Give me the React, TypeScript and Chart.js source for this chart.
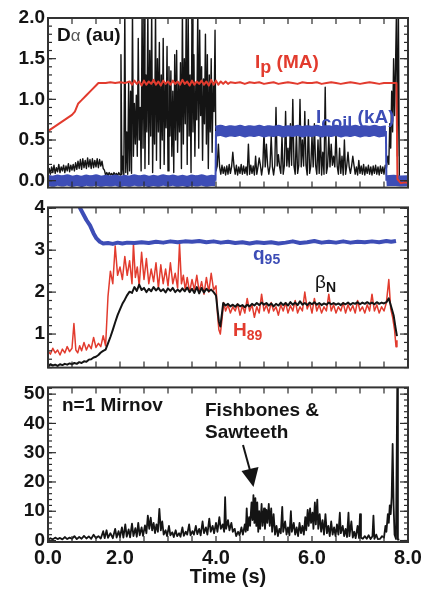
import React, { useEffect, useRef } from "react";
import { Chart, registerables } from "chart.js";

Chart.register(...registerables);

type Pt = [number, number];

// ---------- shared axis labels ----------
const xLabelPositions = [0.5, 2, 4, 6, 8];
const xTickLabels = ["0.0", "2.0", "4.0", "6.0", "8.0"];
const xTickMarks = [0.5, 1, 1.5, 2, 2.5, 3, 3.5, 4, 4.5, 5, 5.5, 6, 6.5, 7, 7.5, 8];
const topYTicks = [0, 0.5, 1, 1.5, 2];
const midYTicks = [1, 2, 3, 4];
const botYTicks = [0, 10, 20, 30, 40, 50];

// ---------- top panel: Ip (MA) ----------
const ipSeries: Pt[] = [
  [0.5, 0.61], [0.6, 0.65], [0.7, 0.69], [0.8, 0.73], [0.9, 0.77], [1.0, 0.81], [1.06, 0.85], [1.13, 0.95],
  [1.2, 0.99], [1.3, 1.05], [1.4, 1.11], [1.5, 1.17], [1.55, 1.2], [1.7, 1.2], [1.8, 1.21], [1.9, 1.2],
  [2.0, 1.21], [2.1, 1.2], [2.2, 1.22], [2.25, 1.18], [2.3, 1.23], [2.35, 1.19], [2.4, 1.22], [2.45, 1.17],
  [2.5, 1.23], [2.55, 1.18], [2.6, 1.22], [2.65, 1.19], [2.7, 1.24], [2.75, 1.18], [2.8, 1.22], [2.85, 1.17],
  [2.9, 1.23], [2.95, 1.19], [3.0, 1.22], [3.05, 1.18], [3.1, 1.23], [3.15, 1.19], [3.2, 1.22], [3.25, 1.18],
  [3.3, 1.24], [3.35, 1.19], [3.4, 1.22], [3.45, 1.17], [3.5, 1.23], [3.55, 1.18], [3.6, 1.22], [3.65, 1.19],
  [3.7, 1.23], [3.75, 1.18], [3.8, 1.22], [3.85, 1.17], [3.9, 1.24], [3.95, 1.18], [4.0, 1.23], [4.05, 1.18],
  [4.1, 1.22], [4.15, 1.19], [4.2, 1.22], [4.25, 1.19], [4.3, 1.21], [4.4, 1.2], [4.5, 1.21], [4.6, 1.19],
  [4.7, 1.21], [4.8, 1.2], [4.9, 1.21], [5.0, 1.19], [5.1, 1.2], [5.2, 1.21], [5.3, 1.19], [5.4, 1.2],
  [5.5, 1.21], [5.6, 1.2], [5.7, 1.19], [5.8, 1.21], [5.9, 1.2], [6.0, 1.2], [6.1, 1.21], [6.2, 1.19],
  [6.3, 1.2], [6.4, 1.21], [6.5, 1.2], [6.6, 1.19], [6.7, 1.2], [6.8, 1.21], [6.9, 1.2], [7.0, 1.19],
  [7.1, 1.2], [7.2, 1.21], [7.3, 1.2], [7.4, 1.19], [7.5, 1.2], [7.6, 1.2], [7.7, 1.2], [7.76, 1.2],
  [7.78, 0.02], [7.85, -0.03], [7.95, -0.02], [8.0, -0.03],
];

// ---------- top panel: Icoil (kA) ----------
const icoilSeries: Pt[] = [
  [0.5, 0.005], [0.6, -0.008], [0.7, 0.008], [0.8, -0.005], [0.9, 0.01], [1.0, -0.008], [1.1, 0.005], [1.2, -0.01],
  [1.3, 0.008], [1.4, -0.005], [1.5, 0.01], [1.6, -0.008], [1.7, 0.005], [1.8, -0.005], [1.9, 0.008], [2.0, -0.01],
  [2.1, 0.005], [2.2, -0.008], [2.3, 0.01], [2.4, -0.005], [2.5, 0.008], [2.6, -0.01], [2.7, 0.005], [2.8, -0.008],
  [2.9, 0.01], [3.0, -0.005], [3.1, 0.008], [3.2, -0.008], [3.3, 0.005], [3.4, -0.01], [3.5, 0.008], [3.6, -0.005],
  [3.7, 0.01], [3.8, -0.008], [3.9, 0.005], [3.99, 0.0], [4.0, 0.61], [4.1, 0.62], [4.2, 0.6], [4.3, 0.615],
  [4.4, 0.605], [4.5, 0.62], [4.6, 0.6], [4.7, 0.615], [4.8, 0.605], [4.9, 0.62], [5.0, 0.6], [5.1, 0.615],
  [5.2, 0.605], [5.3, 0.62], [5.4, 0.6], [5.5, 0.615], [5.6, 0.605], [5.7, 0.62], [5.8, 0.6], [5.9, 0.615],
  [6.0, 0.605], [6.1, 0.62], [6.2, 0.6], [6.3, 0.615], [6.4, 0.605], [6.5, 0.62], [6.6, 0.6], [6.7, 0.615],
  [6.8, 0.605], [6.9, 0.62], [7.0, 0.6], [7.1, 0.615], [7.2, 0.605], [7.3, 0.62], [7.4, 0.6], [7.5, 0.61],
  [7.54, 0.61], [7.55, 0.0], [7.7, 0.005], [7.85, -0.005], [8.0, 0.0],
];

// ---------- top panel: D-alpha (au), sampled pieces ----------
// 0.5 s .. 2.0 s, every 0.025 s
const daPreStart = 0.5;
const daPreStep = 0.025;
const daPreValues = [
  0.06, 0.15, 0.08, 0.17, 0.1, 0.19, 0.09, 0.16, 0.11, 0.2, 0.1, 0.17, 0.12, 0.19, 0.1, 0.18,
  0.12, 0.21, 0.11, 0.19, 0.13, 0.2, 0.12, 0.22, 0.14, 0.24, 0.15, 0.26, 0.14, 0.27, 0.16, 0.25,
  0.15, 0.28, 0.17, 0.26, 0.15, 0.27, 0.16, 0.25, 0.17, 0.27, 0.16, 0.26, 0.18, 0.24, 0.15, 0.13,
  0.07, 0.1, 0.06, 0.1, 0.07, 0.09, 0.06, 0.1, 0.07, 0.09, 0.06, 0.1, 0.07,
];
// 2.02 s .. 4.0 s, every 0.02 s (ELM burst)
const daBurstStart = 2.02;
const daBurstStep = 0.02;
const daBurstValues = [
  1.55, 0.08, 0.3, 0.07, 2.1, 0.1, 0.6, 0.08, 1.2, 0.12, 1.1, 0.09, 2.1, 0.3, 0.95, 0.45,
  1.05, 0.3, 1.75, 0.5, 0.9, 0.12, 2.1, 0.4, 2.1, 0.15, 1.3, 0.6, 2.1, 0.2, 1.6, 0.55,
  2.1, 0.1, 1.2, 0.45, 2.1, 0.25, 1.5, 0.6, 1.7, 0.15, 1.3, 0.5, 1.75, 0.2, 1.2, 0.65,
  1.65, 0.12, 1.4, 0.55, 1.35, 0.3, 1.1, 0.1, 1.55, 0.5, 1.6, 0.35, 1.2, 0.6, 1.45, 0.15,
  2.1, 0.45, 1.5, 0.7, 2.1, 0.2, 2.1, 0.55, 1.3, 0.1, 2.1, 0.6, 1.55, 0.3, 1.2, 0.75,
  2.1, 0.4, 1.85, 0.8, 1.4, 0.25, 1.25, 0.7, 1.8, 0.45, 1.55, 0.15, 1.3, 0.6, 1.5, 0.35,
  1.2, 0.85, 1.85, 0.12,
];
// 4.025 s .. 7.55 s, every 0.025 s
const daPostStart = 4.025;
const daPostStep = 0.025;
const daPostValues = [
  0.18, 0.45, 0.17, 0.08, 0.19, 0.09, 0.17, 0.07, 0.18, 0.08, 0.2, 0.09, 0.17, 0.35, 0.18, 0.08,
  0.19, 0.07, 0.17, 0.09, 0.2, 0.08, 0.18, 0.09, 0.17, 0.07, 0.45, 0.08, 0.19, 0.09, 0.18, 0.07,
  0.3, 0.08, 0.17, 0.28, 0.19, 0.07, 0.18, 0.6, 0.17, 0.45, 0.19, 0.08, 0.18, 0.55, 0.17, 0.07,
  0.19, 0.9, 0.18, 0.32, 0.17, 0.09, 0.55, 0.08, 0.19, 0.85, 0.18, 0.4, 0.17, 0.7, 0.19, 1.0,
  0.18, 0.08, 0.6, 0.09, 0.19, 1.0, 0.17, 0.5, 0.18, 0.85, 0.19, 0.07, 0.75, 0.09, 0.18, 0.55,
  0.17, 0.7, 0.19, 0.08, 0.5, 0.09, 0.6, 0.07, 0.35, 0.08, 1.15, 0.09, 0.18, 0.55, 0.17, 0.45,
  0.19, 0.3, 0.17, 0.6, 0.18, 0.08, 0.4, 0.09, 0.3, 0.07, 0.5, 0.08, 0.19, 0.35, 0.17, 0.09,
  0.18, 0.3, 0.19, 0.08, 0.17, 0.07, 0.25, 0.09, 0.18, 0.08, 0.2, 0.07, 0.17, 0.09, 0.19, 0.08,
  0.17, 0.07, 0.18, 0.09, 0.19, 0.08, 0.17, 0.07, 0.18, 0.09, 0.17, 0.08, 0.19, 0.15,
];
// disruption end
const daEnd: Pt[] = [
  [7.58, 0.3], [7.6, 0.2], [7.62, 0.7], [7.64, 0.4], [7.66, 1.1], [7.68, 0.6], [7.7, 1.5], [7.72, 0.8],
  [7.74, 1.4], [7.76, 2.1], [7.78, 0.3], [7.8, 2.1], [7.82, 0.05], [7.86, 0.01], [7.95, 0.02], [8.0, 0.01],
];

// ---------- middle panel: q95, beta_N, H89 ----------
const q95Series: Pt[] = [
  [1.05, 4.3], [1.17, 4.0], [1.3, 3.72], [1.375, 3.59], [1.45, 3.4], [1.51, 3.28], [1.58, 3.2], [1.65, 3.16],
  [1.75, 3.17], [1.85, 3.15], [1.95, 3.18], [2.05, 3.16], [2.15, 3.18], [2.3, 3.17], [2.45, 3.19], [2.6, 3.17],
  [2.75, 3.2], [2.9, 3.18], [3.05, 3.21], [3.2, 3.19], [3.35, 3.21], [3.5, 3.2], [3.65, 3.22], [3.8, 3.19],
  [3.95, 3.21], [4.1, 3.18], [4.25, 3.2], [4.4, 3.17], [4.55, 3.19], [4.7, 3.16], [4.85, 3.19], [5.0, 3.17],
  [5.15, 3.19], [5.3, 3.16], [5.45, 3.18], [5.6, 3.21], [5.75, 3.17], [5.9, 3.19], [6.05, 3.22], [6.2, 3.18],
  [6.35, 3.2], [6.5, 3.18], [6.65, 3.21], [6.8, 3.18], [6.95, 3.2], [7.1, 3.19], [7.25, 3.21], [7.4, 3.19],
  [7.55, 3.22], [7.65, 3.2], [7.75, 3.22],
];

const betaNSeries: Pt[] = [
  [0.5, 0.22], [0.55, 0.28], [0.6, 0.25], [0.65, 0.27], [0.7, 0.24], [0.75, 0.28], [0.8, 0.26], [0.85, 0.29],
  [0.9, 0.27], [0.95, 0.3], [1.0, 0.28], [1.05, 0.31], [1.1, 0.29], [1.15, 0.33], [1.2, 0.31], [1.25, 0.35],
  [1.3, 0.34], [1.35, 0.39], [1.4, 0.4], [1.45, 0.44], [1.5, 0.46], [1.55, 0.5], [1.6, 0.56], [1.65, 0.6],
  [1.7, 0.63], [1.75, 0.78], [1.8, 0.93], [1.85, 1.1], [1.9, 1.28], [1.95, 1.45], [2.0, 1.59], [2.05, 1.72],
  [2.1, 1.82], [2.15, 1.93], [2.2, 2.01], [2.25, 1.98], [2.3, 2.12], [2.35, 2.03], [2.4, 2.18], [2.45, 2.05],
  [2.5, 2.1], [2.55, 2.0], [2.6, 2.08], [2.65, 2.02], [2.7, 2.12], [2.75, 2.04], [2.8, 2.1], [2.85, 2.02],
  [2.9, 2.07], [2.95, 1.99], [3.0, 2.09], [3.05, 2.03], [3.1, 2.1], [3.15, 2.0], [3.2, 2.06], [3.25, 2.01],
  [3.3, 2.09], [3.35, 2.02], [3.4, 2.11], [3.45, 2.0], [3.5, 2.08], [3.55, 1.98], [3.6, 2.12], [3.65, 1.97],
  [3.7, 2.1], [3.75, 1.99], [3.8, 2.08], [3.85, 2.02], [3.9, 2.06], [3.95, 2.0], [4.0, 1.92], [4.03, 1.6],
  [4.06, 1.3], [4.09, 1.18], [4.12, 1.45], [4.15, 1.74], [4.2, 1.68], [4.25, 1.72], [4.3, 1.66], [4.35, 1.7],
  [4.4, 1.65], [4.45, 1.71], [4.5, 1.66], [4.55, 1.69], [4.6, 1.64], [4.65, 1.7], [4.7, 1.66], [4.75, 1.72],
  [4.8, 1.68], [4.85, 1.74], [4.9, 1.69], [4.95, 1.75], [5.0, 1.7], [5.05, 1.74], [5.1, 1.68], [5.15, 1.73],
  [5.2, 1.66], [5.25, 1.72], [5.3, 1.68], [5.35, 1.75], [5.4, 1.69], [5.45, 1.74], [5.5, 1.68], [5.55, 1.76],
  [5.6, 1.7], [5.65, 1.75], [5.7, 1.69], [5.75, 1.78], [5.8, 1.7], [5.85, 1.74], [5.9, 1.69], [5.95, 1.75],
  [6.0, 1.71], [6.05, 1.76], [6.1, 1.7], [6.15, 1.74], [6.2, 1.69], [6.25, 1.73], [6.3, 1.7], [6.35, 1.75],
  [6.4, 1.71], [6.45, 1.74], [6.5, 1.7], [6.55, 1.73], [6.6, 1.69], [6.65, 1.74], [6.7, 1.71], [6.75, 1.75],
  [6.8, 1.7], [6.85, 1.74], [6.9, 1.72], [6.95, 1.76], [7.0, 1.71], [7.05, 1.75], [7.1, 1.72], [7.15, 1.76],
  [7.2, 1.72], [7.25, 1.75], [7.3, 1.71], [7.35, 1.76], [7.4, 1.72], [7.45, 1.75], [7.5, 1.73], [7.55, 1.76],
  [7.6, 1.85], [7.65, 1.65], [7.7, 1.45], [7.74, 1.15], [7.77, 0.95],
];

const h89Series: Pt[] = [
  [0.5, 0.6], [0.55, 0.52], [0.6, 0.66], [0.65, 0.55], [0.7, 0.62], [0.75, 0.5], [0.8, 0.64], [0.85, 0.55],
  [0.9, 0.7], [0.95, 0.58], [1.0, 0.66], [1.04, 1.25], [1.08, 0.62], [1.12, 0.55], [1.16, 0.72], [1.2, 0.6],
  [1.25, 0.8], [1.3, 0.62], [1.35, 0.75], [1.4, 0.65], [1.45, 0.92], [1.5, 0.68], [1.55, 0.78], [1.6, 0.7],
  [1.65, 0.96], [1.7, 0.72], [1.75, 1.9], [1.8, 2.5], [1.85, 2.2], [1.9, 3.1], [1.95, 2.4], [2.0, 2.6],
  [2.05, 2.3], [2.1, 2.85], [2.15, 2.4], [2.2, 2.75], [2.25, 2.2], [2.28, 3.15], [2.32, 2.35], [2.36, 2.6],
  [2.4, 2.15], [2.45, 2.95], [2.5, 2.3], [2.55, 2.8], [2.6, 2.2], [2.65, 2.55], [2.7, 2.25], [2.75, 2.7],
  [2.8, 2.1], [2.85, 2.65], [2.9, 2.2], [2.95, 2.55], [3.0, 2.15], [3.05, 2.7], [3.1, 2.2], [3.15, 2.45],
  [3.2, 2.1], [3.24, 3.15], [3.28, 2.2], [3.32, 2.4], [3.36, 2.05], [3.4, 2.35], [3.45, 2.0], [3.5, 2.3],
  [3.55, 2.05], [3.6, 2.4], [3.65, 2.0], [3.7, 2.25], [3.75, 1.95], [3.8, 2.35], [3.85, 2.0], [3.9, 2.45],
  [3.95, 2.05], [4.0, 2.15], [4.03, 1.5], [4.06, 1.1], [4.09, 1.0], [4.12, 1.3], [4.16, 1.75], [4.2, 1.55],
  [4.25, 1.7], [4.3, 1.5], [4.35, 1.65], [4.4, 1.55], [4.45, 1.72], [4.5, 1.45], [4.55, 1.68], [4.6, 1.5],
  [4.65, 1.85], [4.7, 1.55], [4.75, 1.7], [4.8, 1.4], [4.85, 1.65], [4.9, 1.5], [4.95, 1.95], [5.0, 1.55],
  [5.05, 1.7], [5.1, 1.5], [5.15, 1.75], [5.2, 1.55], [5.25, 1.65], [5.3, 1.45], [5.35, 1.7], [5.4, 1.55],
  [5.45, 1.75], [5.5, 1.5], [5.55, 1.68], [5.6, 1.55], [5.65, 1.8], [5.7, 1.5], [5.75, 1.65], [5.8, 1.55],
  [5.85, 2.0], [5.9, 1.6], [5.95, 1.75], [6.0, 1.5], [6.05, 1.85], [6.1, 1.55], [6.15, 1.7], [6.2, 1.5],
  [6.25, 1.65], [6.3, 1.55], [6.35, 1.95], [6.4, 1.55], [6.45, 1.7], [6.5, 1.5], [6.55, 1.65], [6.6, 1.55],
  [6.65, 1.75], [6.7, 1.5], [6.75, 1.7], [6.8, 1.55], [6.85, 1.68], [6.9, 1.5], [6.95, 1.8], [7.0, 1.55],
  [7.05, 1.65], [7.1, 1.5], [7.15, 1.7], [7.2, 1.55], [7.25, 1.95], [7.3, 1.55], [7.35, 1.7], [7.4, 1.5],
  [7.45, 1.65], [7.5, 1.55], [7.55, 1.75], [7.6, 2.3], [7.64, 1.6], [7.68, 1.4], [7.72, 1.1], [7.75, 0.7],
  [7.77, 0.85],
];

// ---------- bottom panel: n=1 Mirnov ----------
const mirnovSeries: Pt[] = [
  [0.5, 0.3], [0.55, 0.8], [0.6, 0.4], [0.65, 1.0], [0.7, 0.5], [0.75, 0.9], [0.8, 0.4], [0.85, 1.2],
  [0.9, 0.5], [0.95, 1.0], [1.0, 0.6], [1.05, 1.5], [1.1, 0.5], [1.15, 1.2], [1.2, 0.6], [1.25, 1.6],
  [1.3, 0.7], [1.35, 1.4], [1.4, 0.6], [1.45, 2.0], [1.5, 0.8], [1.55, 1.5], [1.6, 0.7], [1.65, 3.2],
  [1.68, 0.8], [1.72, 3.5], [1.75, 0.9], [1.8, 2.5], [1.85, 0.8], [1.9, 4.0], [1.93, 1.0], [1.97, 3.2],
  [2.0, 1.2], [2.04, 4.5], [2.07, 1.0], [2.11, 5.5], [2.14, 1.3], [2.18, 3.8], [2.21, 1.1], [2.25, 5.8],
  [2.28, 1.5], [2.32, 4.2], [2.35, 1.3], [2.38, 6.0], [2.41, 1.8], [2.45, 4.5], [2.48, 1.6], [2.52, 5.2],
  [2.55, 2.5], [2.58, 8.5], [2.61, 4.0], [2.64, 7.8], [2.67, 3.5], [2.7, 6.0], [2.73, 2.5], [2.76, 5.5],
  [2.79, 3.0], [2.82, 10.8], [2.85, 3.5], [2.88, 6.5], [2.91, 2.0], [2.95, 3.5], [2.98, 1.5], [3.02, 5.0],
  [3.05, 1.8], [3.09, 2.8], [3.12, 1.2], [3.16, 3.5], [3.19, 1.5], [3.23, 2.5], [3.26, 1.3], [3.3, 4.5],
  [3.33, 1.6], [3.37, 3.0], [3.4, 2.0], [3.44, 5.5], [3.47, 1.8], [3.51, 3.2], [3.54, 2.0], [3.58, 5.0],
  [3.61, 2.2], [3.65, 4.0], [3.68, 1.8], [3.72, 6.5], [3.75, 2.5], [3.79, 4.5], [3.82, 2.0], [3.86, 7.5],
  [3.89, 3.0], [3.93, 5.0], [3.96, 2.5], [4.0, 6.0], [4.03, 3.0], [4.07, 8.0], [4.1, 4.0], [4.14, 5.5],
  [4.17, 3.0], [4.19, 14.8], [4.21, 4.0], [4.25, 7.0], [4.28, 3.5], [4.32, 6.0], [4.35, 3.0], [4.39, 4.0],
  [4.42, 1.5], [4.46, 3.0], [4.49, 1.8], [4.53, 4.5], [4.56, 2.0], [4.6, 5.5], [4.62, 3.0], [4.64, 11.0],
  [4.66, 3.5], [4.69, 8.0], [4.71, 5.0], [4.74, 13.0], [4.76, 7.0], [4.78, 15.5], [4.8, 6.0], [4.82, 14.5],
  [4.84, 5.0], [4.86, 13.0], [4.88, 3.0], [4.9, 10.0], [4.92, 4.0], [4.95, 12.5], [4.97, 5.0], [5.0, 11.0],
  [5.02, 4.0], [5.05, 10.5], [5.07, 6.0], [5.1, 12.5], [5.12, 5.0], [5.15, 11.0], [5.17, 3.0], [5.2, 9.0],
  [5.23, 2.0], [5.26, 5.0], [5.29, 1.5], [5.32, 4.0], [5.35, 2.5], [5.38, 11.5], [5.4, 3.0], [5.44, 6.5],
  [5.47, 2.0], [5.5, 4.5], [5.53, 1.8], [5.56, 10.0], [5.58, 3.0], [5.62, 6.0], [5.65, 2.0], [5.68, 4.5],
  [5.71, 1.5], [5.74, 6.0], [5.77, 2.5], [5.8, 5.0], [5.83, 2.0], [5.86, 8.0], [5.88, 3.5], [5.91, 10.5],
  [5.93, 5.0], [5.96, 11.0], [5.98, 6.0], [6.01, 9.5], [6.03, 4.0], [6.06, 13.0], [6.08, 5.5], [6.11, 14.0],
  [6.13, 4.0], [6.16, 9.0], [6.19, 3.0], [6.22, 7.0], [6.25, 2.0], [6.28, 9.0], [6.31, 2.5], [6.34, 5.0],
  [6.37, 1.5], [6.4, 6.5], [6.43, 2.0], [6.46, 4.5], [6.49, 1.5], [6.52, 5.5], [6.55, 2.0], [6.58, 9.5],
  [6.6, 2.5], [6.64, 5.0], [6.67, 1.5], [6.7, 4.0], [6.73, 1.2], [6.76, 9.5], [6.78, 1.5], [6.82, 6.5],
  [6.85, 1.0], [6.88, 3.0], [6.91, 0.8], [6.95, 5.0], [6.98, 0.8], [7.0, 9.0], [7.02, 1.0], [7.06, 0.6],
  [7.1, 1.5], [7.14, 0.6], [7.18, 1.8], [7.22, 0.5], [7.26, 1.5], [7.28, 8.5], [7.3, 0.6], [7.34, 2.0],
  [7.37, 0.5], [7.42, 0.6], [7.46, 1.5], [7.5, 1.0], [7.53, 5.0], [7.55, 3.0], [7.58, 9.0], [7.6, 6.0],
  [7.62, 12.0], [7.64, 9.0], [7.66, 15.0], [7.68, 33.0], [7.7, 12.0], [7.72, 2.0], [7.75, 0.5], [7.77, 0.5],
  [7.78, 60.0], [7.79, 0.3], [7.82, 0.3],
];

// ---------- styling ----------
const RED = "#e23b2e";
const BLUE = "#3d4db6";
const INK = "#141414";
const FONT = '"Liberation Sans", Arial, Helvetica, sans-serif';

const sampled = (start: number, step: number, values: number[]): Pt[] =>
  values.map((v, i) => [+(start + i * step).toFixed(4), v]);

const daSeries: Pt[] = [
  ...sampled(daPreStart, daPreStep, daPreValues),
  ...sampled(daBurstStart, daBurstStep, daBurstValues),
  ...sampled(daPostStart, daPostStep, daPostValues),
  ...daEnd,
];

const toXY = (s: Pt[]) => s.map(([x, y]) => ({ x, y }));

function range(start: number, end: number, step: number) {
  const out: number[] = [];
  const n = Math.round((end - start) / step);
  for (let i = 0; i <= n; i++) out.push(+(start + i * step).toFixed(4));
  return out;
}

const frameTicksPlugin = {
  id: "frameTicks",
  afterDatasetsDraw(chart: any, _args: any, opts: any) {
    const { ctx, chartArea: a, scales } = chart;
    const xs = scales.x;
    const ys = scales.y;
    ctx.save();
    ctx.strokeStyle = "#2b2b2b";
    ctx.lineWidth = 1.2;
    const seg = (x1: number, y1: number, x2: number, y2: number) => {
      ctx.beginPath();
      ctx.moveTo(x1, y1);
      ctx.lineTo(x2, y2);
      ctx.stroke();
    };
    for (const v of opts.xTicks || []) {
      const px = xs.getPixelForValue(v);
      seg(px, a.bottom, px, a.bottom - 6);
      seg(px, a.top, px, a.top + 6);
    }
    for (const v of opts.yMinor || []) {
      const py = ys.getPixelForValue(v);
      if (py < a.top || py > a.bottom) continue;
      seg(a.left, py, a.left + 4, py);
      seg(a.right, py, a.right - 4, py);
    }
    for (const v of opts.yMajor || []) {
      const py = ys.getPixelForValue(v);
      if (py < a.top || py > a.bottom) continue;
      seg(a.left, py, a.left + 8, py);
      seg(a.right, py, a.right - 8, py);
    }
    ctx.lineWidth = 2;
    ctx.strokeStyle = "#333";
    ctx.strokeRect(a.left, a.top, a.right - a.left, a.bottom - a.top);
    ctx.restore();
  },
};

type DS = { data: Pt[]; color: string; width: number; stepWidth?: number };

type PanelProps = {
  top: number;
  height: number;
  padTop: number;
  padBottom: number;
  yMin: number;
  yMax: number;
  yTicks: number[];
  yMinor: number[];
  yFmt: (v: number) => string;
  datasets: DS[];
  showX: boolean;
};

function Panel(p: PanelProps) {
  const ref = useRef<HTMLCanvasElement | null>(null);
  useEffect(() => {
    if (!ref.current) return;
    const tickFont = { family: FONT, size: 19, weight: "bold" as const };
    const chart = new Chart(ref.current, {
      type: "line",
      data: {
        datasets: p.datasets.map((d) => ({
          data: toXY(d.data),
          borderColor: d.color,
          backgroundColor: d.color,
          borderWidth: d.width,
          pointRadius: 0,
          fill: false,
          tension: 0,
          borderJoinStyle: "round" as const,
          clip: 0,
          segment: d.stepWidth
            ? {
                borderWidth: (c: any) =>
                  Math.abs(c.p1.parsed.y - c.p0.parsed.y) > 0.3 ? d.stepWidth : d.width,
              }
            : undefined,
        })),
      },
      options: {
        responsive: false,
        animation: false,
        events: [],
        layout: { padding: { left: 0, right: 19, top: p.padTop, bottom: p.padBottom } },
        plugins: {
          legend: { display: false },
          tooltip: { enabled: false },
          frameTicks: { xTicks: xTickMarks, yMajor: p.yTicks, yMinor: p.yMinor },
        } as any,
        scales: {
          x: {
            type: "linear",
            min: 0.5,
            max: 8,
            display: p.showX,
            grid: { display: false, drawTicks: false },
            border: { display: false },
            afterBuildTicks: (s: any) => {
              s.ticks = xLabelPositions.map((v) => ({ value: v }));
            },
            afterFit: (s: any) => {
              if (p.showX) s.height = 50;
            },
            ticks: {
              autoSkip: false,
              maxRotation: 0,
              padding: 4,
              color: INK,
              font: { family: FONT, size: 20, weight: "bold" },
              callback: (_v: any, i: number) => xTickLabels[i] ?? "",
            },
            title: {
              display: p.showX,
              text: "Time (s)",
              color: INK,
              font: { family: FONT, size: 20, weight: "bold" },
              padding: { top: 0, bottom: 3 },
            },
          },
          y: {
            type: "linear",
            min: p.yMin,
            max: p.yMax,
            grid: { display: false, drawTicks: false },
            border: { display: false },
            afterBuildTicks: (s: any) => {
              s.ticks = p.yTicks.map((v) => ({ value: v }));
            },
            afterFit: (s: any) => {
              s.width = 48;
            },
            ticks: {
              padding: 3,
              color: INK,
              font: tickFont,
              callback: (v: any) => p.yFmt(Number(v)),
            },
          },
        },
      } as any,
      plugins: [frameTicksPlugin],
    });
    return () => chart.destroy();
  }, []);
  return (
    <canvas
      ref={ref}
      width={427}
      height={p.height}
      style={{ position: "absolute", left: 0, top: p.top, width: 427, height: p.height }}
    />
  );
}

const baseText: React.CSSProperties = {
  position: "absolute",
  fontFamily: FONT,
  fontWeight: "bold",
  fontSize: 19,
  lineHeight: 1,
  whiteSpace: "nowrap",
  color: INK,
};

const sub = (size: number, drop: number): React.CSSProperties => ({
  fontSize: size,
  position: "relative",
  top: drop,
});

export default function App() {
  return (
    <div
      style={{
        position: "absolute",
        left: 0,
        top: 0,
        width: 427,
        height: 592,
        background: "#fff",
        overflow: "hidden",
      }}
    >
      <Panel
        top={0}
        height={202}
        padTop={18}
        padBottom={12}
        yMin={-0.085}
        yMax={2.0}
        yTicks={topYTicks}
        yMinor={range(0, 2, 0.1)}
        yFmt={(v) => v.toFixed(1)}
        showX={false}
        datasets={[
          { data: ipSeries, color: RED, width: 2 },
          { data: icoilSeries, color: BLUE, width: 11, stepWidth: 2 },
          { data: daSeries, color: INK, width: 1.4 },
        ]}
      />
      <Panel
        top={193}
        height={189}
        padTop={12}
        padBottom={12}
        yMin={0.2}
        yMax={4.02}
        yTicks={midYTicks}
        yMinor={range(0.2, 4, 0.2)}
        yFmt={(v) => String(Math.round(v))}
        showX={false}
        datasets={[
          { data: q95Series, color: BLUE, width: 4 },
          { data: betaNSeries, color: INK, width: 2 },
          { data: h89Series, color: RED, width: 1.5 },
        ]}
      />
      <Panel
        top={373}
        height={219}
        padTop={12}
        padBottom={0}
        yMin={-0.5}
        yMax={52.3}
        yTicks={botYTicks}
        yMinor={range(0, 52, 2)}
        yFmt={(v) => String(Math.round(v))}
        showX={true}
        datasets={[{ data: mirnovSeries, color: INK, width: 1.8 }]}
      />

      <div style={{ ...baseText, left: 57, top: 25 }}>
        D<span style={{ fontWeight: "normal", fontSize: 17, color: "#555" }}>α</span> (au)
      </div>
      <div style={{ ...baseText, left: 255, top: 52, color: RED }}>
        I<span style={sub(18, 5)}>p</span> (MA)
      </div>
      <div style={{ ...baseText, left: 316, top: 107, color: BLUE }}>
        I<span style={sub(18, 6)}>coil</span> (kA)
      </div>
      <div style={{ ...baseText, left: 253, top: 244, color: BLUE }}>
        q<span style={sub(14, 4)}>95</span>
      </div>
      <div style={{ ...baseText, left: 315, top: 272 }}>
        <span style={{ fontWeight: "normal" }}>β</span>
        <span style={sub(14, 4)}>N</span>
      </div>
      <div style={{ ...baseText, left: 233, top: 320, color: RED }}>
        H<span style={sub(14, 4)}>89</span>
      </div>
      <div style={{ ...baseText, left: 62, top: 395 }}>n=1 Mirnov</div>
      <div style={{ ...baseText, left: 205, top: 400 }}>Fishbones &amp;</div>
      <div style={{ ...baseText, left: 205, top: 422 }}>Sawteeth</div>
      <svg
        width={427}
        height={592}
        style={{ position: "absolute", left: 0, top: 0, pointerEvents: "none" }}
      >
        <line x1={243} y1={445} x2={251} y2={474} stroke={INK} strokeWidth={2} />
        <polygon points="241.5,471 258.5,467 253.5,487" fill={INK} />
      </svg>
    </div>
  );
}
